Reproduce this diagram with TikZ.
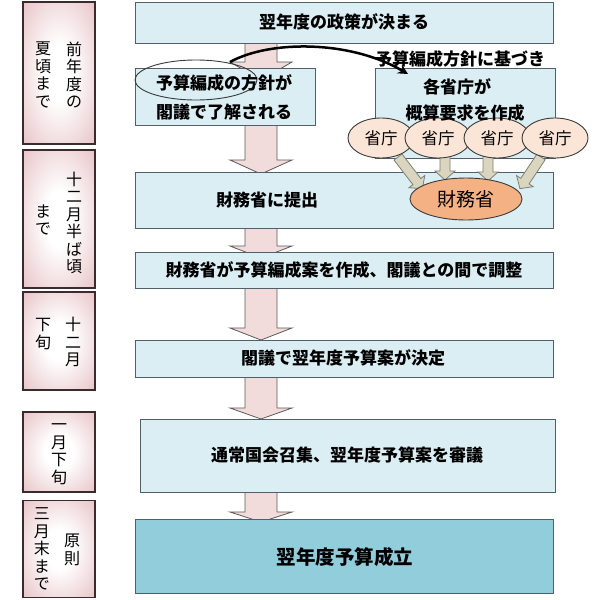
\documentclass[tikz,border=0pt]{standalone}
\usepackage{fontspec}
\setmainfont{Noto Sans CJK JP}
\usetikzlibrary{shapes.geometric,arrows.meta}
\definecolor{boxfill}{HTML}{DAEEF3}
\definecolor{boxdraw}{HTML}{505F69}
\definecolor{finalfill}{HTML}{92CDDC}
\definecolor{pinkc}{HTML}{DBA3A8}
\definecolor{perioddraw}{HTML}{3B2B2E}
\definecolor{arrpink}{HTML}{F2DCDB}
\definecolor{arrdraw}{HTML}{5A5A5A}
\definecolor{khaki}{HTML}{D9D5BE}
\definecolor{khakidraw}{HTML}{7F7F75}
\definecolor{peach}{HTML}{FBE5D6}
\definecolor{orangec}{HTML}{F4B183}
\definecolor{ovaldraw}{HTML}{3A3A3A}
\pgfdeclareradialshading{pinkrad}{\pgfpoint{0bp}{0bp}}{color(0bp)=(white); color(10bp)=(white); color(50bp)=(pinkc); color(75bp)=(pinkc)}
\newcommand{\pinkarrow}[3]{\draw[pinkarr] (261-16,#1) -- (261+16,#1) -- (261+16,#2) -- (261+31,#2) -- (261,#3) -- (261-31,#2) -- (261-16,#2) -- cycle;}
\newcommand{\khakiarrow}[3]{\begin{scope}[shift={#1}, rotate=#2]
  \draw[smallarr] (0,-5) -- (#3-9,-5) -- (#3-9,-10) -- (#3,0) -- (#3-9,10) -- (#3-9,5) -- (0,5) -- cycle;
\end{scope}}
\begin{document}
\begin{tikzpicture}[x=1pt,y=-1pt,
  mainbox/.style={draw=boxdraw, line width=1pt, fill=boxfill, rectangle, inner sep=0pt},
  periodbox/.style={draw=perioddraw, line width=1.5pt, shading=pinkrad, rectangle, inner sep=0pt, minimum width=72pt},
  pinkarr/.style={draw=arrdraw, line width=0.8pt, fill=arrpink},
  smallarr/.style={draw=khakidraw, line width=0.8pt, fill=khaki, line join=miter},
  ministry/.style={ellipse, draw=ovaldraw, line width=0.9pt, fill=peach, minimum width=66pt, minimum height=40pt, inner sep=0pt, font=\fontsize{16.5}{18}\selectfont},
  maintext/.style={inner sep=0pt, font=\fontsize{17}{20}\selectfont\bfseries},
  periodtext/.style={inner sep=0pt, align=center, font=\fontsize{16}{17.5}\selectfont}]
\useasboundingbox (0,0) rectangle (600,600);
\fill[white] (0,0) rectangle (600,600);

% period boxes
\node[periodbox, minimum height=142pt] (p1) at (59,73) {};
\node[periodbox, minimum height=138pt] (p2) at (59,219) {};
\node[periodbox, minimum height=98pt] (p3) at (59,341) {};
\node[periodbox, minimum height=80pt] (p4) at (59,452) {};
\node[periodbox, minimum height=97pt] (p5) at (59,549) {};
\node[periodtext] (p1a) at (74,75) {前\\年\\度\\の};
\node[periodtext] (p1b) at (43,75) {夏\\頃\\ま\\で};
\node[periodtext] (p2a) at (74,223) {十\\二\\月\\半\\ば\\頃};
\node[periodtext] (p2b) at (43,220) {ま\\で};
\node[periodtext] (p3a) at (73,342) {十\\二\\月};
\node[periodtext] (p3b) at (43,334) {下\\旬};
\node[periodtext] (p4a) at (59,454) {一\\月\\下\\旬};
\node[periodtext] (p5a) at (72,550) {原\\則};
\node[periodtext] (p5b) at (42,549) {三\\月\\末\\ま\\で};

% big arrows
\pinkarrow{43}{62}{80}
\pinkarrow{125}{160}{174}
\pinkarrow{228}{246}{258}
\pinkarrow{288}{328}{340}
\pinkarrow{377}{408}{419}
\pinkarrow{492}{512}{522}

% main boxes
\node[mainbox, minimum width=418pt, minimum height=41pt] (top) at (344,22.5) {};
\node[mainbox, minimum width=180pt, minimum height=57pt] (plan) at (225,96.5) {};
\node[mainbox, minimum width=180pt, minimum height=90pt] (req) at (465,113) {};
\node[mainbox, minimum width=418pt, minimum height=56pt] (submit) at (344,200) {};
\node[mainbox, minimum width=418pt, minimum height=36pt] (adjust) at (344,270) {};
\node[mainbox, minimum width=418pt, minimum height=37pt] (decide) at (344,358.5) {};
\node[mainbox, minimum width=415pt, minimum height=73pt] (diet) at (347.5,455.5) {};
\node[mainbox, fill=finalfill, minimum width=418pt, minimum height=74pt] (pass) at (344,556) {};

% small arrows
\khakiarrow{(398,157)}{-52.5}{40}
\khakiarrow{(445,156)}{-90}{24}
\khakiarrow{(488,156)}{-90}{25}
\khakiarrow{(541,157)}{-123.7}{38}

% ministries
\node[ministry] (m1) at (381,138) {省庁};
\node[ministry] (m2) at (438,138) {省庁};
\node[ministry] (m3) at (497,138) {省庁};
\node[ministry] (m4) at (555,138) {省庁};
\node[ellipse, draw=ovaldraw, line width=0.9pt, fill=orangec, minimum width=112pt, minimum height=42pt, inner sep=0pt, font=\fontsize{19}{21}\selectfont] (mof) at (466,199) {財務省};

% plan ellipse
\node[ellipse, draw=ovaldraw, line width=0.9pt, minimum width=122pt, minimum height=40pt, inner sep=0pt] (planov) at (196,80) {};

% texts
\node[maintext] (ttop) at (344,22) {翌年度の政策が決まる};
\node[maintext, align=center, font=\fontsize{17}{29}\selectfont\bfseries] (tplan) at (224,97.5) {予算編成の方針が\\閣議で了解される};
\node[maintext] (tbase) at (460,59) {予算編成方針に基づき};
\node[maintext] (treq1) at (457,87) {各省庁が};
\node[maintext] (treq2) at (465,113) {概算要求を作成};
\node[maintext] (tsubmit) at (267,200) {財務省に提出};
\node[maintext] (tadjust) at (344,270) {財務省が予算編成案を作成、閣議との間で調整};
\node[maintext] (tdecide) at (343,358) {閣議で翌年度予算案が決定};
\node[maintext] (tdiet) at (347,455) {通常国会召集、翌年度予算案を審議};
\node[maintext, font=\fontsize{19.5}{22}\selectfont\bfseries] (tpass) at (345,557) {翌年度予算成立};

% curved arrow
\coordinate (cstart) at (230,62);
\coordinate (cend) at (408,74);
\draw[line width=2.5pt, -{Stealth[length=10pt,width=10pt]}] (cstart) .. controls (270,40) and (350,40) .. (cend);
\end{tikzpicture}
\end{document}
